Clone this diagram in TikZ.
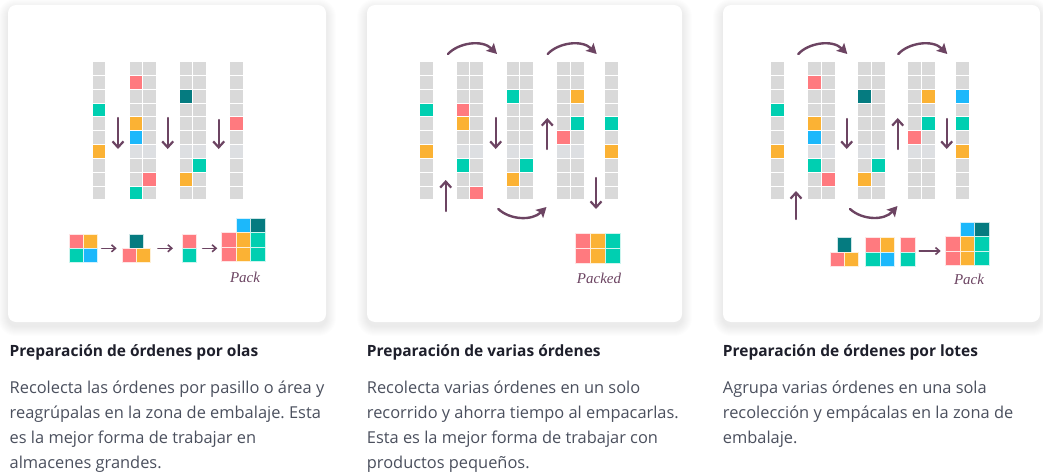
\documentclass[tikz,border=0pt]{standalone}
\usepackage{fontspec}
\setmainfont{Open Sans}
\newfontfamily\packfont{Liberation Serif}
\usetikzlibrary{arrows.meta}
\frenchspacing
\definecolor{cpink}{HTML}{FF7A7F}
\definecolor{corange}{HTML}{FBB234}
\definecolor{cteal}{HTML}{00CFB1}
\definecolor{cblue}{HTML}{1CB8FB}
\definecolor{cdteal}{HTML}{057B80}
\definecolor{cgray}{HTML}{D9D9D9}
\definecolor{clgray}{HTML}{DDDFE2}
\definecolor{carrow}{HTML}{6C4462}
\definecolor{ctitle}{HTML}{1E1F2B}
\definecolor{cbody}{HTML}{4B505E}
\tikzset{
  cellbox/.style={fill=#1, draw=white, line width=0.8pt},
  sq/.style={fill=#1, draw=white!80!#1, line width=0.8pt},
  straightarr/.style={draw=carrow, line width=2.2pt, line cap=round,
    -{Straight Barb[length=6pt,width=11pt]}},
  curvearr/.style={draw=carrow, line width=2.4pt, line cap=round,
    -{Stealth[length=10pt,width=11pt,inset=2pt]}},
  smallarr/.style={draw=carrow, line width=1.6pt, line cap=round,
    -{Straight Barb[length=4pt,width=7pt]}},
  packlabel/.style={text=carrow, font=\packfont\itshape\fontsize{15}{15}\selectfont, inner sep=0pt},
  titletext/.style={text=ctitle, font=\bfseries\fontsize{15.5}{17}\selectfont, anchor=base west, inner sep=0pt},
  bodytext/.style={text=cbody, font=\fontsize{16.4}{18}\selectfont, anchor=base west, inner sep=0pt},
}
% shelf column: x, number of sub-columns
\newcommand\shelfcol[2]{%
  \foreach \r in {0,...,9}{%
    \foreach \c in {1,...,#2}{%
      \filldraw[cellbox=cgray] ({#1+(\c-1)*13.8},{61.7+\r*13.8}) rectangle ++(13.8,13.8);
    }%
  }%
  \foreach \c in {1,...,#2}{%
    \filldraw[cellbox=clgray] ({#1+(\c-1)*13.8},{61.7+6*13.8}) rectangle ++(13.8,13.8);
  }%
}
% coloured cell: x of shelf, sub-column, row, colour
\newcommand\pcell[4]{%
  \filldraw[cellbox=#4] ({#1+#2*13.8},{61.7+#3*13.8}) rectangle ++(13.8,13.8);
}
% square of a parcel: x, y, size, colour
\newcommand\psq[4]{%
  \filldraw[sq=#4] (#1,#2) rectangle ++(#3,#3);
}
\newcommand\cardbox[4]{%
  \foreach \i in {1,...,10}{%
    \fill[black, opacity=0.0065, rounded corners={8+\i}] ({#1-\i},{#2-\i+4}) rectangle ({#3+\i},{#4+\i+4});
  }%
  \fill[white, rounded corners=8] (#1,#2) rectangle (#3,#4);
}
\begin{document}
\begin{tikzpicture}[x=1pt,y=-1pt]
\useasboundingbox (0,0) rectangle (1043,476);
\fill[white] (0,0) rectangle (1043,476);

% cards
\cardbox{8}{5}{326}{322}
\cardbox{367}{5}{682}{322}
\cardbox{723}{5}{1040}{322}

% ================= card 1 =================
\shelfcol{92}{1}
\shelfcol{129}{2}
\shelfcol{179}{2}
\shelfcol{229.3}{1}
\pcell{92}{0}{3}{cteal}
\pcell{92}{0}{6}{corange}
\pcell{129}{0}{1}{cpink}
\pcell{129}{0}{4}{corange}
\pcell{129}{0}{5}{cblue}
\pcell{129}{0}{9}{cteal}
\pcell{129}{1}{8}{cpink}
\pcell{179}{0}{2}{cdteal}
\pcell{179}{1}{7}{cteal}
\pcell{179}{0}{8}{corange}
\pcell{229.3}{0}{4}{cpink}

\draw[straightarr] (118,118) -- (118,149);
\draw[straightarr] (167.7,118) -- (167.7,149);
\draw[straightarr] (218.7,120) -- (218.7,149);

\psq{69.3}{234}{14}{cpink}
\psq{83.3}{234}{14}{corange}
\psq{69.3}{248}{14}{cteal}
\psq{83.3}{248}{14}{cblue}
\draw[smallarr] (101.7,248.3) -- (116.7,248.3);
\psq{129.5}{234}{14}{cdteal}
\psq{122.3}{248}{14}{cpink}
\psq{136.3}{248}{14}{corange}
\draw[smallarr] (158,248.3) -- (173,248.3);
\psq{182.7}{234}{14}{cpink}
\psq{182.7}{248}{14}{cteal}
\draw[smallarr] (202.7,248.3) -- (217.3,248.3);
\psq{236.2}{218.3}{14.5}{cblue}
\psq{250.7}{218.3}{14.5}{cdteal}
\psq{221.7}{232.8}{14.5}{cpink}
\psq{236.2}{232.8}{14.5}{corange}
\psq{250.7}{232.8}{14.5}{cteal}
\psq{221.7}{247.3}{14.5}{cpink}
\psq{236.2}{247.3}{14.5}{corange}
\psq{250.7}{247.3}{14.5}{cteal}
\node[packlabel] (pack1) at (245,277) {Pack};

% ================= card 2 =================
\shelfcol{419.3}{1}
\shelfcol{456}{2}
\shelfcol{506}{2}
\shelfcol{556.7}{2}
\shelfcol{604.3}{1}
\pcell{419.3}{0}{3}{cteal}
\pcell{419.3}{0}{6}{corange}
\pcell{456}{0}{3}{cpink}
\pcell{456}{0}{4}{corange}
\pcell{456}{0}{7}{cteal}
\pcell{456}{1}{9}{cpink}
\pcell{506}{0}{2}{cteal}
\pcell{506}{1}{7}{cteal}
\pcell{506}{0}{8}{corange}
\pcell{556.7}{1}{2}{corange}
\pcell{556.7}{1}{4}{cteal}
\pcell{556.7}{0}{5}{cpink}
\pcell{604.3}{0}{4}{cteal}
\pcell{604.3}{0}{6}{corange}

\draw[curvearr] (448,54) .. controls (458,43) and (482,39) .. (497,54);
\draw[curvearr] (547.7,54) .. controls (557.7,43) and (581.7,39) .. (596.7,54);
\draw[curvearr] (498.3,209) .. controls (510,220) and (532,221) .. (546.5,207);
\draw[straightarr] (445.7,211) -- (445.7,180);
\draw[straightarr] (495.7,118) -- (495.7,149);
\draw[straightarr] (547.3,149) -- (547.3,118);
\draw[straightarr] (596,178) -- (596,209);

\psq{575.7}{233.3}{15}{cpink}
\psq{590.7}{233.3}{15}{corange}
\psq{605.7}{233.3}{15}{cteal}
\psq{575.7}{248.3}{15}{cpink}
\psq{590.7}{248.3}{15}{corange}
\psq{605.7}{248.3}{15}{cteal}
\node[packlabel] (pack2) at (599,278) {Packed};

% ================= card 3 =================
\shelfcol{770.7}{1}
\shelfcol{807.3}{2}
\shelfcol{857.3}{2}
\shelfcol{907.3}{2}
\shelfcol{955.7}{1}
\pcell{770.7}{0}{3}{cteal}
\pcell{770.7}{0}{6}{corange}
\pcell{807.3}{0}{1}{cpink}
\pcell{807.3}{0}{4}{corange}
\pcell{807.3}{0}{5}{cblue}
\pcell{807.3}{0}{7}{cteal}
\pcell{807.3}{1}{8}{cpink}
\pcell{857.3}{0}{2}{cdteal}
\pcell{857.3}{1}{7}{cteal}
\pcell{857.3}{0}{8}{corange}
\pcell{907.3}{1}{2}{corange}
\pcell{907.3}{1}{4}{cteal}
\pcell{907.3}{0}{5}{cpink}
\pcell{955.7}{0}{2}{cblue}
\pcell{955.7}{0}{4}{cteal}
\pcell{955.7}{0}{6}{corange}

\draw[curvearr] (798.3,54) .. controls (808.3,43) and (832.3,39) .. (847.3,54);
\draw[curvearr] (898.3,54) .. controls (908.3,43) and (932.3,39) .. (947.3,54);
\draw[curvearr] (850,209) .. controls (862,220) and (884,221) .. (897.5,206);
\draw[straightarr] (796,219) -- (796,191);
\draw[straightarr] (846.7,119) -- (846.7,149);
\draw[straightarr] (897.7,149) -- (897.7,118);
\draw[straightarr] (946.7,119) -- (946.7,149);

\psq{837.3}{237.7}{14.3}{cdteal}
\psq{830}{252}{14.3}{cpink}
\psq{844.3}{252}{14.3}{corange}
\psq{865.7}{237.7}{14.5}{cpink}
\psq{880.2}{237.7}{14.5}{corange}
\psq{865.7}{252.2}{14.5}{cteal}
\psq{880.2}{252.2}{14.5}{cblue}
\psq{900.7}{237.7}{14.3}{cpink}
\psq{900.7}{252}{14.3}{cteal}
\draw[smallarr] (919.3,251) -- (940.7,251);
\psq{960.2}{222.3}{14.5}{cblue}
\psq{974.7}{222.3}{14.5}{cdteal}
\psq{945.7}{236.8}{14.5}{cpink}
\psq{960.2}{236.8}{14.5}{corange}
\psq{974.7}{236.8}{14.5}{cteal}
\psq{945.7}{251.3}{14.5}{cpink}
\psq{960.2}{251.3}{14.5}{corange}
\psq{974.7}{251.3}{14.5}{cteal}
\node[packlabel] (pack3) at (969,279) {Pack};

% ================= texts =================
\node[titletext] (t1) at (9.5,356) {Preparación de órdenes por olas};
\node[bodytext] (b1a) at (9.5,393.3) {Recolecta las órdenes por pasillo o área y};
\node[bodytext] (b1b) at (9.5,418.3) {reagrúpalas en la zona de embalaje. Esta};
\node[bodytext] (b1c) at (9.5,443.3) {es la mejor forma de trabajar en};
\node[bodytext] (b1d) at (9.5,468.3) {almacenes grandes.};

\node[titletext] (t2) at (366.7,356) {Preparación de varias órdenes};
\node[bodytext] (b2a) at (366.7,393.3) {Recolecta varias órdenes en un solo};
\node[bodytext] (b2b) at (366.7,418.3) {recorrido y ahorra tiempo al empacarlas.};
\node[bodytext] (b2c) at (366.7,443.3) {Esta es la mejor forma de trabajar con};
\node[bodytext] (b2d) at (366.7,468.3) {productos pequeños.};

\node[titletext] (t3) at (722.7,356) {Preparación de órdenes por lotes};
\node[bodytext] (b3a) at (722.7,393.3) {Agrupa varias órdenes en una sola};
\node[bodytext] (b3b) at (722.7,418.3) {recolección y empácalas en la zona de};
\node[bodytext] (b3c) at (722.7,443.3) {embalaje.};
\end{tikzpicture}
\end{document}
